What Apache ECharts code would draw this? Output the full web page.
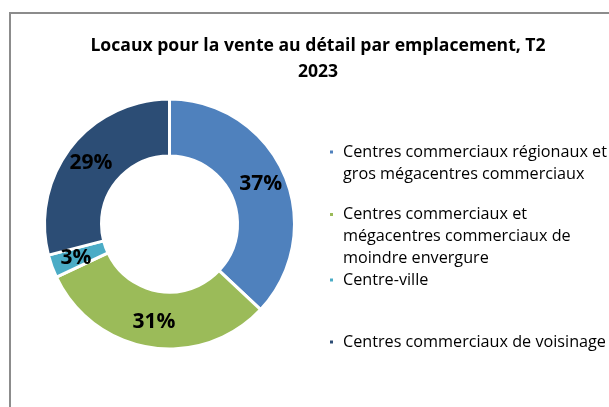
<!DOCTYPE html>
<html>
<head>
<meta charset="utf-8">
<script src="https://cdn.jsdelivr.net/npm/echarts@6/dist/echarts.min.js"></script>
<style>
html,body{margin:0;padding:0;background:#fff;}
#c{width:609px;height:407px;}
</style>
</head>
<body>
<div id="c"></div>
<script>
const titleText = "Locaux pour la vente au détail par emplacement, T2\n2023";
const categories = [
  "Centres commerciaux régionaux et\ngros mégacentres commerciaux",
  "Centres commerciaux et\nmégacentres commerciaux de\nmoindre envergure",
  "Centre-ville",
  "Centres commerciaux de voisinage"
];
const values = [37, 31, 3, 29];
const colors = ["#4F81BD", "#9BBB59", "#4BACC6", "#2C4D75"];

const FONT = "'Open Sans', sans-serif";
const LH = 22;
const legendFirstLineY = [152, 214.5, 280, 342];

const legends = categories.map((name, i) => {
  const n = name.split("\n").length;
  return {
    data: [{ name: name, icon: "rect" }],
    orient: "vertical",
    left: 328,
    top: legendFirstLineY[i] - (n - 1) * LH - LH / 2,
    padding: 0,
    itemWidth: 5,
    itemHeight: 5,
    selectedMode: false,
    formatter: function (nm) { return "\u00a0\n".repeat(n - 1) + nm; },
    textStyle: {
      fontFamily: FONT,
      fontSize: 16.2,
      lineHeight: LH,
      color: "#000",
      padding: [0, 0, 0, 4]
    }
  };
});

const chart = echarts.init(document.getElementById("c"), null, { renderer: "canvas" });
chart.setOption({
  animation: false,
  backgroundColor: "#fff",
  title: {
    text: titleText,
    left: 318,
    textAlign: "center",
    top: 33,
    padding: 0,
    textStyle: {
      fontFamily: FONT,
      fontSize: 17.6,
      fontWeight: "bold",
      lineHeight: 26,
      color: "#000"
    }
  },
  graphic: [{
    type: "rect",
    shape: { x: 10, y: 13, width: 900, height: 900 },
    style: { fill: "none", stroke: "#8c8c8c", lineWidth: 2 },
    silent: true,
    z: -1
  }],
  legend: legends,
  series: [{
    type: "pie",
    center: [169.5, 224],
    radius: [68, 125],
    startAngle: 90,
    clockwise: true,
    avoidLabelOverlap: false,
    itemStyle: { borderColor: "#fff", borderWidth: 3 },
    label: {
      show: true,
      position: "inside",
      formatter: "{c}%",
      fontFamily: FONT,
      fontSize: 21,
      fontWeight: "bold",
      color: "#000"
    },
    labelLine: { show: false },
    emphasis: { disabled: true },
    data: categories.map((name, i) => ({
      name: name,
      value: values[i],
      itemStyle: { color: colors[i] }
    }))
  }]
});
</script>
</body>
</html>
